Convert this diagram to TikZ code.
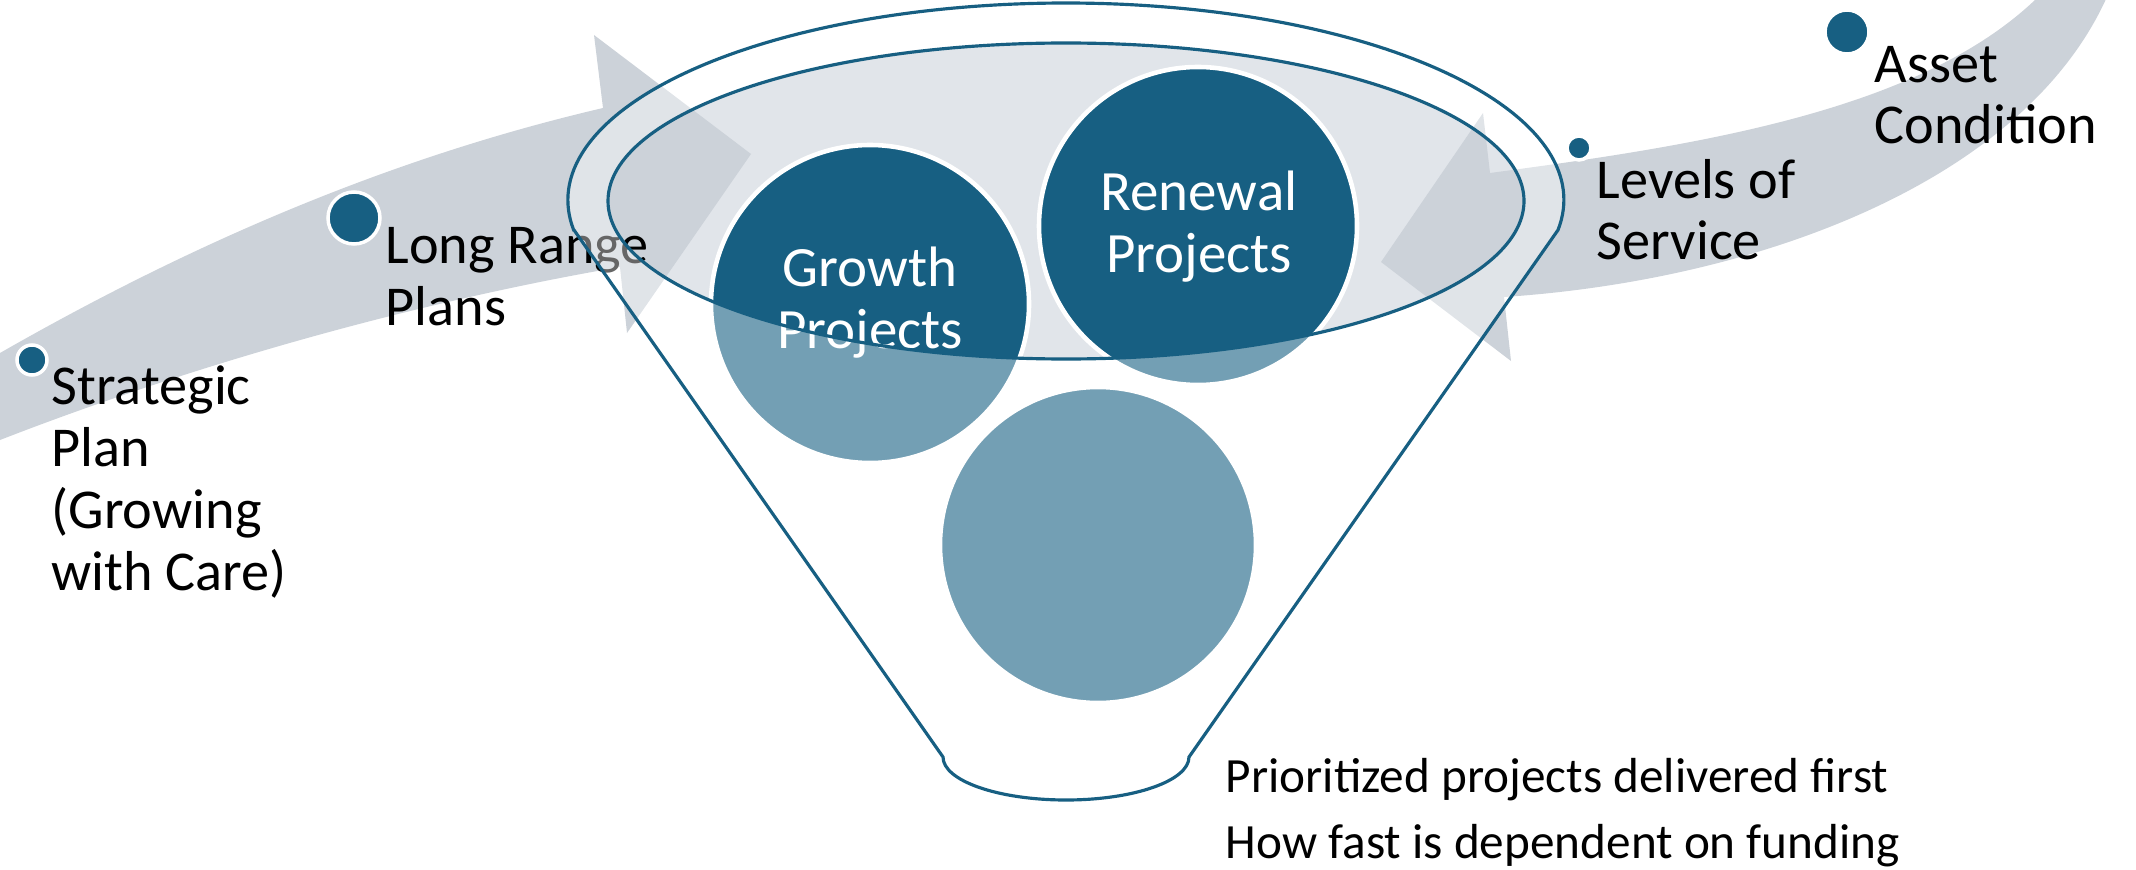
\documentclass[tikz,border=0pt]{standalone}
\usepackage{fontspec}
\setmainfont{Carlito}

\definecolor{funnelblue}{RGB}{23,95,130}
\definecolor{bandgray}{RGB}{204,210,217}
\definecolor{bowlgray}{RGB}{225,229,234}

\begin{document}
\begin{tikzpicture}[
        x={(0.01cm,0cm)},
        y={(0cm,-0.01cm)},
        dot/.style={fill=funnelblue, draw=white, line width=1pt},
        bubble/.style={fill=funnelblue, draw=white, line width=1.3pt},
        rim/.style={draw=funnelblue, line width=0.9pt},
        caption/.style={inner sep=0pt, anchor=base west, align=left,
            font=\fontsize{16}{17.6}\selectfont},
        bubbletext/.style={inner sep=0pt, anchor=base, align=center, text=white,
            font=\fontsize{16.2}{17.4}\selectfont},
        note/.style={inner sep=0pt, anchor=base west, align=left,
            font=\fontsize{14}{18.5}\selectfont}
    ]

    \useasboundingbox (0,0) rectangle (2136,870);
    \clip (0,0) rectangle (2136,870);

    % arrow heads of the two bands
    \coordinate (lneckT) at (603,108);
    \coordinate (lbarbT) at (594,35);
    \coordinate (ltip) at (751,154);
    \coordinate (lbarbB) at (627,333);
    \coordinate (lneckB) at (620,267);

    \coordinate (rneckT) at (1490,173);
    \coordinate (rbarbT) at (1483,113);
    \coordinate (rtip) at (1381,262);
    \coordinate (rbarbB) at (1511,361);
    \coordinate (rneckB) at (1504,297);

    % funnel corners
    \coordinate (rimL) at (574,230);
    \coordinate (rimR) at (1558,230);
    \coordinate (spoutL) at (943,757);
    \coordinate (spoutR) at (1189,757);

    % bowl of the funnel
    \fill[bowlgray] (1066,201) ellipse [x radius=458, y radius=158];

    % bands
    \fill[bandgray] (0,353) .. controls (180,250) and (380,160) .. (lneckT)
        -- (lbarbT) -- (ltip) -- (lbarbB) -- (lneckB)
        .. controls (400,305) and (180,370) .. (0,440) -- cycle;
    \fill[bandgray] (rneckT) .. controls (1700,145) and (1930,110) .. (2045,-10)
        -- (2110,-10) .. controls (2030,180) and (1760,280) .. (rneckB)
        -- (rbarbB) -- (rtip) -- (rbarbT) -- cycle;

    % dots and labels along the bands (anchored on the last line)
    \filldraw[dot] (32,360) circle (15);
    \filldraw[dot] (354,218) circle (26);
    \filldraw[dot] (1579,148) circle (12);
    \filldraw[dot] (1847,32) circle (22);

    \node[caption] (strategic) at (51,590) {Strategic\\Plan\\(Growing\\with Care)};
    \node[caption] (longrange) at (385,325) {Long Range\\Plans};
    \node[caption] (levels) at (1596,260) {Levels of\\Service};
    \node[caption] (asset) at (1874,144) {Asset\\Condition};

    % project bubbles
    \filldraw[bubble] (870,304) circle (159);
    \filldraw[bubble] (1198,226) circle (159);
    \filldraw[bubble] (1098,545) circle (158);

    \node[bubbletext] (growth) at (870,348) {Growth\\Projects};
    \node[bubbletext] (renewal) at (1199,272) {Renewal\\Projects};

    % funnel body fades what lies under it
    \fill[white, fill opacity=0.4, even odd rule] (rimL) -- (spoutL)
        arc [start angle=180, end angle=0, x radius=123, y radius=43]
        -- (rimR) arc [start angle=8.76, end angle=-188.76, x radius=498, y radius=197]
        -- cycle
        (1066,201) ellipse [x radius=458, y radius=158];

    % funnel outline
    \draw[rim] (rimL) -- (spoutL)
        arc [start angle=180, end angle=0, x radius=123, y radius=43]
        -- (rimR) arc [start angle=8.76, end angle=-188.76, x radius=498, y radius=197]
        -- cycle;
    \draw[rim] (1066,201) ellipse [x radius=458, y radius=158];

    \node[note] (priority) at (1225,858) {Prioritized projects delivered first\\How fast is dependent on funding};

\end{tikzpicture}
\end{document}
